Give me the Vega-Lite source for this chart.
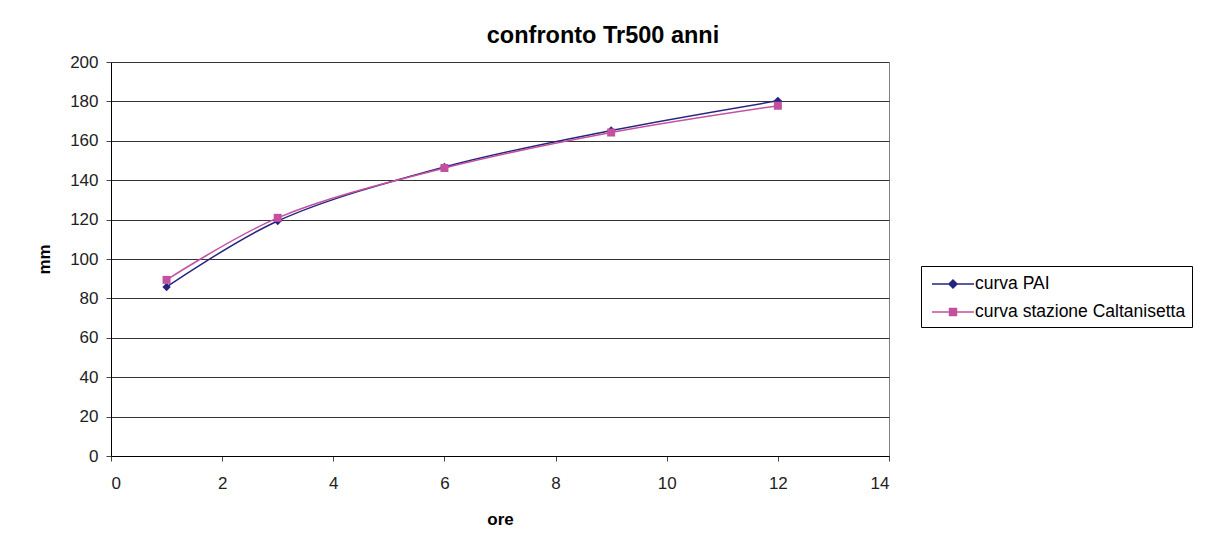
{
  "$schema": "https://vega.github.io/schema/vega-lite/v6.json",
  "width": 778,
  "height": 394,
  "autosize": {"type": "none"},
  "padding": {"left": 111, "top": 62, "right": 318, "bottom": 96},
  "background": "white",
  "title": {
    "text": "confronto Tr500 anni",
    "font": "Liberation Sans",
    "fontSize": 23.5,
    "fontWeight": "bold",
    "color": "#000000",
    "anchor": "middle",
    "dx": 103,
    "offset": 6
  },
  "data": {
    "values": [
      {"ore": 1, "mm": 85.8, "serie": "curva PAI"},
      {"ore": 3, "mm": 119.3, "serie": "curva PAI"},
      {"ore": 6, "mm": 146.7, "serie": "curva PAI"},
      {"ore": 9, "mm": 165.2, "serie": "curva PAI"},
      {"ore": 12, "mm": 180.3, "serie": "curva PAI"},
      {"ore": 1, "mm": 89.4, "serie": "curva stazione Caltanisetta"},
      {"ore": 3, "mm": 120.9, "serie": "curva stazione Caltanisetta"},
      {"ore": 6, "mm": 146.2, "serie": "curva stazione Caltanisetta"},
      {"ore": 9, "mm": 164.2, "serie": "curva stazione Caltanisetta"},
      {"ore": 12, "mm": 177.8, "serie": "curva stazione Caltanisetta"}
    ]
  },
  "encoding": {
    "x": {
      "field": "ore", "type": "quantitative",
      "scale": {"domain": [0, 14], "nice": false, "zero": false},
      "axis": {"values": [0, 2, 4, 6, 8, 10, 12, 14], "grid": false, "title": "ore",
        "titlePadding": 20, "labelPadding": 14}
    },
    "y": {
      "field": "mm", "type": "quantitative",
      "scale": {"domain": [0, 200], "nice": false},
      "axis": {"values": [0, 20, 40, 60, 80, 100, 120, 140, 160, 180, 200], "grid": true, "title": "mm",
        "titlePadding": 16, "labelPadding": 8}
    },
    "color": {
      "field": "serie", "type": "nominal",
      "scale": {"domain": ["curva PAI", "curva stazione Caltanisetta"], "range": ["#252580", "#C4519F"]},
      "legend": {
        "title": null,
        "orient": "none",
        "legendX": 810,
        "legendY": 204,
        "strokeColor": "#000000",
        "fillColor": "white",
        "padding": 6.5,
        "rowPadding": 8,
        "symbolSize": 441,
        "symbolOffset": 14,
        "symbolStrokeWidth": 1.5,
        "labelOffset": 10.5,
        "labelFont": "Liberation Sans",
        "labelFontSize": 17.5,
        "labelColor": "#000000",
        "labelLimit": 400,
        "encode": {
          "symbols": {
            "update": {
              "shape": {"signal": "datum.value === 'curva PAI' ? 'M-2,0H2M0,-0.38L0.38,0L0,0.38L-0.38,0Z' : 'M-2,0H2M-0.33,-0.33H0.33V0.33H-0.33Z'"},
              "fill": {"scale": "color", "field": "value"},
              "stroke": {"scale": "color", "field": "value"},
              "strokeWidth": {"value": 1.5},
              "opacity": {"value": 1}
            }
          }
        }
      }
    }
  },
  "layer": [
    {
      "mark": {"type": "line", "interpolate": "catmull-rom", "strokeWidth": 1.5}
    },
    {
      "transform": [{"filter": "datum.serie === 'curva PAI'"}],
      "mark": {"type": "point", "filled": true, "size": 70, "opacity": 1, "shape": "diamond"}
    },
    {
      "transform": [{"filter": "datum.serie === 'curva stazione Caltanisetta'"}],
      "mark": {"type": "point", "filled": true, "size": 64, "opacity": 1, "shape": "square"}
    }
  ],
  "config": {
    "view": {"stroke": "#808080", "strokeWidth": 1},
    "axis": {
      "labelFont": "Liberation Sans",
      "labelFontSize": 17,
      "labelColor": "#222222",
      "titleFont": "Liberation Sans",
      "titleFontSize": 17,
      "titleFontWeight": "bold",
      "titleColor": "#000000",
      "domainColor": "#000000",
      "domainWidth": 1,
      "tickColor": "#444444",
      "tickSize": 5,
      "gridColor": "#333333",
      "gridWidth": 1
    }
  }
}
